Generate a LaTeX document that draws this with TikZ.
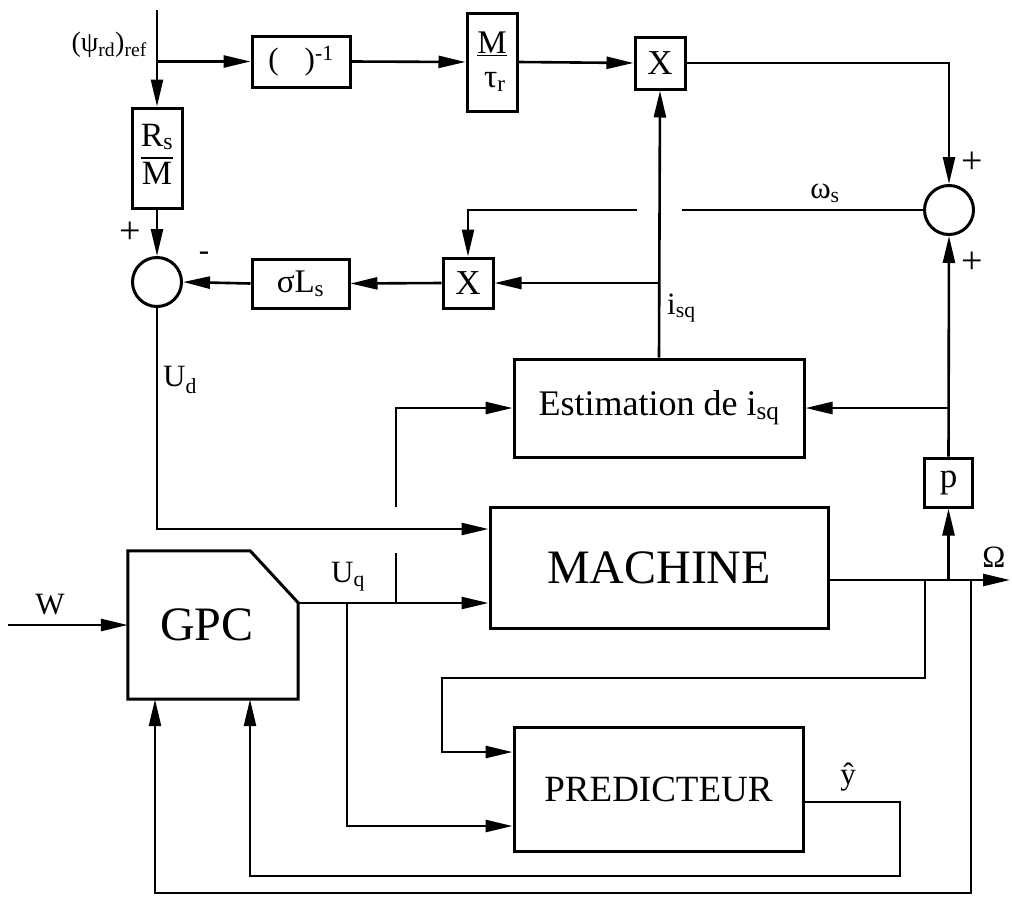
\documentclass[tikz,border=0pt]{standalone}
\usepackage{fontspec}
\setmainfont{Liberation Serif}
\usetikzlibrary{arrows.meta}
\setlength\arrayrulewidth{2pt}
\begin{document}
\begin{tikzpicture}[x=1pt,y=-1pt,
  ln/.style={line width=2.6pt},
  arr/.style={ln,-{Triangle[length=27pt,width=12pt]}},
  blk/.style={draw,line width=3pt,inner sep=0pt,font=\fontsize{31}{33}\selectfont},
  sumc/.style={draw,circle,line width=3pt,minimum size=49pt,inner sep=0pt},
  lab/.style={font=\fontsize{31}{33}\selectfont,inner sep=0pt},
  sgn/.style={font=\fontsize{38}{40}\selectfont,inner sep=0pt}]
\useasboundingbox (0,0) rectangle (1012,900);
% blocks
\node[blk,minimum width=98pt,minimum height=51pt] (inv) at (301,61.5) {(\hspace{26pt})\textsuperscript{-1}};
\node[blk,minimum width=50pt,minimum height=98pt,align=center,font=\fontsize{33}{34}\selectfont] (Mtau) at (492,62) {\underline{M}\\\,τ\textsubscript{r}};
\node[blk,minimum width=50pt,minimum height=52pt,font=\fontsize{35}{36}\selectfont] (Xt) at (660,63) {X};
\node[sumc] (sr) at (949,210) {};
\node[blk,minimum width=50pt,minimum height=100pt,font=\fontsize{34}{36}\selectfont] (RsM) at (157,158) {\begin{tabular}{@{}c@{}}R\textsubscript{s}\\\hline M\end{tabular}};
\node[sumc] (sl) at (157,282) {};
\node[blk,minimum width=97pt,minimum height=49pt,font=\fontsize{33}{34}\selectfont] (sig) at (300.5,283.5) {σL\textsubscript{s}};
\node[blk,minimum width=50pt,minimum height=50pt,font=\fontsize{35}{36}\selectfont] (Xl) at (468,283) {X};
\node[blk,minimum width=290pt,minimum height=98pt,font=\fontsize{36}{38}\selectfont] (est) at (659,408) {Estimation de i\textsubscript{sq}};
\node[blk,minimum width=48pt,minimum height=49pt,font=\fontsize{35}{36}\selectfont] (p) at (948.5,482.5) {p};
\node[blk,minimum width=338pt,minimum height=121pt,font=\fontsize{48}{50}\selectfont] (mach) at (659,567.5) {MACHINE};
\node[minimum width=170pt,minimum height=148pt,inner sep=0pt,font=\fontsize{48}{50}\selectfont] (gpc) at (213,625) {\hspace*{-12pt}GPC};
\draw[line width=3pt] (gpc.south west) -- (gpc.north west) -- ([xshift=-48pt]gpc.north east) -- ([yshift=-52pt]gpc.north east) -- (gpc.south east) -- cycle;
\node[blk,minimum width=289pt,minimum height=124pt,font=\fontsize{37}{40}\selectfont] (pred) at (658.5,789) {PREDICTEUR};
% coordinates
\coordinate (in) at (157,10);
\coordinate (j1) at (157,61.5);
\coordinate (w1) at (682,210);
\coordinate (w2) at (637,210);
\coordinate (b1) at (659,283);
\coordinate (ud) at (157,529);
\coordinate (uq0) at (298,603);
\coordinate (e1) at (396,603);
\coordinate (e2) at (396,553);
\coordinate (e3) at (396,507);
\coordinate (pq) at (347,603);
\coordinate (pq2) at (347,826);
\coordinate (om) at (1010,580);
\coordinate (pb) at (948.5,580);
\coordinate (eb) at (948.5,408);
\coordinate (f1) at (925,580);
\coordinate (f2) at (442,678);
\coordinate (f3) at (442,752);
\coordinate (y1) at (900,802);
\coordinate (y2) at (900,876);
\coordinate (y3) at (250,876);
\coordinate (g1) at (971,580);
\coordinate (g2) at (971,893);
\coordinate (g3) at (155,893);
\coordinate (w) at (8,625);
% connectors
\draw[ln] (in) -- (j1);
\draw[arr] (j1) -- (RsM.north);
\draw[arr] (j1) -- (inv.west);
\draw[arr] (inv.east) -- (Mtau.west);
\draw[arr] (Mtau.east) -- (Xt.west);
\draw[arr] (Xt.east) -| (sr.north);
\draw[arr] (RsM.south) -- (sl.north);
\draw[ln] (sr.west) -- (w1);
\draw[arr] (w2) -| (Xl.north);
\draw[arr] (est.north) -- (Xt.south);
\draw[arr] (b1) -- (Xl.east);
\draw[arr] (Xl.west) -- (sig.east);
\draw[arr] (sig.west) -- (sl.east);
\draw[arr] (sl.south) -- (ud) -- (mach.west |- ud);
\draw[arr] (uq0) -- (mach.west |- uq0);
\draw[ln] (e1) -- (e2);
\draw[arr] (e3) |- (est.west);
\draw[arr] (pq) -- (pq2) -- (pred.west |- pq2);
\draw[arr] (mach.east |- om) -- (om);
\draw[arr] (pb) -- (p.south);
\draw[arr] (p.north) -- (sr.south);
\draw[arr] (eb) -- (est.east);
\draw[arr] (f1) |- (f2) -- (f3) -- (pred.west |- f3);
\draw[arr] (pred.east |- y1) -- (y1) -- (y2) -- (y3) -- (y3 |- gpc.south);
\draw[arr] (g1) -- (g2) -- (g3) -- (g3 |- gpc.south);
\draw[arr] (w) -- (gpc.west);
% labels
\node[lab,font=\fontsize{28}{30}\selectfont,anchor=east] (lpsi) at (147,45) {(ψ\textsubscript{rd})\textsubscript{ref}};
\node[sgn] (plus1) at (130,233) {+};
\node[lab] (minus1) at (204,256) {-};
\node[sgn] (plus2) at (972,163) {+};
\node[sgn] (plus3) at (972,263) {+};
\node[lab] (lws) at (825,193) {ω\textsubscript{s}};
\node[lab,anchor=west] (lisq) at (667,308) {i\textsubscript{sq}};
\node[lab,anchor=west] (lud) at (163,380) {U\textsubscript{d}};
\node[lab] (luq) at (348,577) {U\textsubscript{q}};
\node[lab] (lW) at (50,605) {W};
\node[lab] (lom) at (994,557) {Ω};
\node[lab] (lyh) at (848,777) {ŷ};
\end{tikzpicture}
\end{document}
